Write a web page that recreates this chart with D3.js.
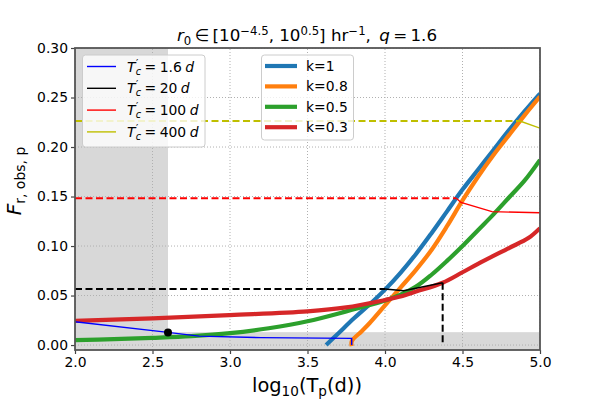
<!DOCTYPE html>
<html>
<head>
<meta charset="utf-8">
<script src="https://cdn.jsdelivr.net/npm/d3@7"></script>
<style>
  body { margin: 0; background: #fff; }
  text { font-family: "DejaVu Sans", sans-serif; }
</style>
</head>
<body>
<div id="chart"></div>
<script>
// ticks
const xTickVals = [2.0, 2.5, 3.0, 3.5, 4.0, 4.5, 5.0];
const yTickVals = [0.00, 0.05, 0.10, 0.15, 0.20, 0.25, 0.30];

// thick curves, one per k
const kLabels = ['k=1', 'k=0.8', 'k=0.5', 'k=0.3'];
const k1X  = [3.62, 3.7, 3.8, 3.9, 4.0, 4.1, 4.2, 4.3, 4.4, 4.5, 4.6, 4.7, 4.8, 4.9, 5.0];
const k1Y  = [0.0, 0.012, 0.027, 0.041, 0.056, 0.073, 0.092, 0.113, 0.135, 0.157, 0.177, 0.197, 0.217, 0.236, 0.254];
const k08X = [3.785, 3.786, 3.85, 3.9, 4.0, 4.1, 4.2, 4.3, 4.4, 4.5, 4.6, 4.7, 4.8, 4.9, 5.0];
const k08Y = [-0.001, 0.004, 0.014, 0.022, 0.040, 0.058, 0.076, 0.096, 0.12, 0.146, 0.17, 0.192, 0.212, 0.232, 0.251];
const k05X = [2.0, 2.25, 2.5, 2.75, 3.0, 3.25, 3.5, 3.75, 4.0, 4.1, 4.2, 4.3, 4.4, 4.5, 4.6, 4.7, 4.8, 4.9, 5.0];
const k05Y = [0.005, 0.006, 0.0073, 0.009, 0.012, 0.017, 0.024, 0.034, 0.045, 0.051, 0.059, 0.071, 0.085, 0.1, 0.116, 0.132, 0.149, 0.166, 0.187];
const k03X = [2.0, 2.5, 3.0, 3.5, 3.75, 4.0, 4.1, 4.2, 4.372, 4.5, 4.6, 4.8, 4.925, 5.0];
const k03Y = [0.0245, 0.027, 0.0303, 0.034, 0.038, 0.0455, 0.049, 0.054, 0.0629, 0.0735, 0.082, 0.098, 0.108, 0.118];

// thin T'_c curves
const tcLabels = ['1.6', '20', '100', '400'];
const tc16X  = [2.0, 2.6, 2.8, 3.2, 3.785, 3.785];
const tc16Y  = [0.0236, 0.0128, 0.009, 0.0075, 0.0067, 0.0];
const tc20X  = [4.0, 4.12, 4.372];
const tc20Y  = [0.0566, 0.0549, 0.0629];
const tc100X = [4.46, 4.49, 4.69, 5.0];
const tc100Y = [0.1482, 0.144, 0.1347, 0.1336];
const tc400X = [4.87, 5.0];
const tc400Y = [0.2263, 0.219];

// dashed guide levels (level, where the dash stops)
const dashLevels = [0.0566, 0.1482, 0.2263];
const dashEnds   = [4.0, 4.46, 4.87];
const dropX = [4.372];
const dropY = [0.0629];

// marker and shaded spans
const dotX = [2.6];
const dotY = [0.0128];
const shadeX = [2.0, 2.6];
const shadeY = [-0.005, 0.013];

const width = 600, height = 400;
const m = { left: 75, right: 60, top: 48, bottom: 50 };

const svg = d3.select('#chart').append('svg')
  .attr('width', width)
  .attr('height', height);

const x = d3.scaleLinear().domain([2.0, 5.0]).range([m.left, width - m.right]);
const y = d3.scaleLinear().domain([-0.005, 0.30]).range([height - m.bottom, m.top]);

svg.append('defs').append('clipPath').attr('id', 'clip')
  .append('rect')
  .attr('x', x(2.0)).attr('y', y(0.30))
  .attr('width', x(5.0) - x(2.0)).attr('height', y(-0.005) - y(0.30));

const plot = svg.append('g').attr('clip-path', 'url(#clip)');

// grey spans
plot.append('rect')
  .attr('x', x(shadeX[0])).attr('y', y(0.30))
  .attr('width', x(shadeX[1]) - x(shadeX[0]))
  .attr('height', y(-0.005) - y(0.30))
  .attr('fill', '#d8d8d8');
plot.append('rect')
  .attr('x', x(2.0)).attr('y', y(shadeY[1]))
  .attr('width', x(5.0) - x(2.0))
  .attr('height', y(shadeY[0]) - y(shadeY[1]))
  .attr('fill', '#d8d8d8');

// grid
plot.append('g').selectAll('line').data(xTickVals).join('line')
  .attr('x1', d => x(d)).attr('x2', d => x(d))
  .attr('y1', y(-0.005)).attr('y2', y(0.30))
  .attr('stroke', '#b0b0b0').attr('stroke-width', 1).attr('stroke-dasharray', '1,2');
plot.append('g').selectAll('line').data(yTickVals).join('line')
  .attr('x1', x(2.0)).attr('x2', x(5.0))
  .attr('y1', d => y(d)).attr('y2', d => y(d))
  .attr('stroke', '#b0b0b0').attr('stroke-width', 1).attr('stroke-dasharray', '1,2');

const line = d3.line().x(d => x(d[0])).y(d => y(d[1]));
const smooth = d3.line().x(d => x(d[0])).y(d => y(d[1])).curve(d3.curveCatmullRom.alpha(0.5));
const zip = (xs, ys) => xs.map((v, i) => [v, ys[i]]);

// thick k curves
const kSeries = [zip(k1X, k1Y), zip(k08X, k08Y), zip(k05X, k05Y), zip(k03X, k03Y)];
const kColors = ['#1f77b4', '#ff7f0e', '#2ca02c', '#d62728'];
plot.append('g').selectAll('path').data(kSeries).join('path')
  .attr('d', smooth)
  .attr('fill', 'none')
  .attr('stroke', (d, i) => kColors[i])
  .attr('stroke-width', 4.2);

// dashed guides
const tcColors = ['#0000ff', '#000000', '#ff0000', '#bfbf00'];
plot.append('g').selectAll('path').data(dashLevels).join('path')
  .attr('d', (d, i) => line([[2.0, d], [dashEnds[i], d]]))
  .attr('fill', 'none')
  .attr('stroke', (d, i) => tcColors[i + 1])
  .attr('stroke-width', 2)
  .attr('stroke-dasharray', '7,3.5');
plot.append('path')
  .attr('d', line([[dropX[0], dropY[0]], [dropX[0], 0]]))
  .attr('fill', 'none')
  .attr('stroke', '#000')
  .attr('stroke-width', 2)
  .attr('stroke-dasharray', '7,3.5');

// thin T'_c curves
const tcSeries = [zip(tc16X, tc16Y), zip(tc20X, tc20Y), zip(tc100X, tc100Y), zip(tc400X, tc400Y)];
plot.append('g').selectAll('path').data(tcSeries).join('path')
  .attr('d', line)
  .attr('fill', 'none')
  .attr('stroke', (d, i) => tcColors[i])
  .attr('stroke-width', 1.4);

plot.append('circle')
  .attr('cx', x(dotX[0])).attr('cy', y(dotY[0]))
  .attr('r', 4).attr('fill', '#000');

// axes
const xAxis = svg.append('g')
  .attr('transform', `translate(0,${y(-0.005)})`)
  .call(d3.axisBottom(x).tickValues(xTickVals).tickFormat(d3.format('.1f')).tickSize(4).tickPadding(3));
const yAxis = svg.append('g')
  .attr('transform', `translate(${x(2.0)},0)`)
  .call(d3.axisLeft(y).tickValues(yTickVals).tickFormat(d3.format('.2f')).tickSize(4).tickPadding(3));
[xAxis, yAxis].forEach(a => {
  a.select('.domain').remove();
  a.selectAll('.tick line').attr('stroke', '#444').attr('stroke-width', 1.2);
  a.selectAll('.tick text').attr('font-size', 13.9).attr('fill', '#000')
    .style('font-family', '"DejaVu Sans", sans-serif');
});

svg.append('rect')
  .attr('x', x(2.0)).attr('y', y(0.30))
  .attr('width', x(5.0) - x(2.0)).attr('height', y(-0.005) - y(0.30))
  .attr('fill', 'none').attr('stroke', '#555').attr('stroke-width', 1.8);

// rich text helper: parts = {t, s: 'sup'|'sub', i: italic, dx}
const rich = (text, parts, size) => {
  let off = 0;
  parts.forEach(p => {
    const target = p.s === 'sup' ? -0.38 * size : p.s === 'sub' ? 0.22 * size : 0;
    const ts = text.append('tspan')
      .attr('dy', target - off)
      .attr('font-size', p.s ? size * 0.7 : size)
      .text(p.t);
    if (p.i) ts.attr('font-style', 'italic');
    if (p.dx) ts.attr('dx', p.dx);
    off = target;
  });
};

// title
const title = svg.append('text')
  .attr('x', 307).attr('y', 41)
  .attr('text-anchor', 'middle');
rich(title, [
  { t: 'r', i: true }, { t: '0', s: 'sub' }, { t: '\u2009\u2208\u2009[10' },
  { t: '\u22124.5', s: 'sup' }, { t: ', 10' }, { t: '0.5', s: 'sup' },
  { t: '] hr' }, { t: '\u22121', s: 'sup' }, { t: ',\u2002' },
  { t: 'q', i: true }, { t: '\u2009=\u20091.6' }
], 16.7);

// axis labels
const xl = svg.append('text')
  .attr('x', 307).attr('y', 392)
  .attr('text-anchor', 'middle');
rich(xl, [{ t: 'log' }, { t: '10', s: 'sub' }, { t: '(T' }, { t: 'p', s: 'sub' }, { t: '(d))' }], 19.4);

const yl = svg.append('text')
  .attr('transform', 'translate(21,181) rotate(-90)')
  .attr('text-anchor', 'middle');
rich(yl, [{ t: 'F', i: true }, { t: 'r, obs, p', s: 'sub' }], 20);

// legend for T'_c
const leg1 = svg.append('g');
leg1.append('rect')
  .attr('x', 82.5).attr('y', 55).attr('width', 122.5).attr('height', 92)
  .attr('rx', 3).attr('fill', '#fff').attr('fill-opacity', 0.8)
  .attr('stroke', '#ccc');
tcLabels.forEach((lab, i) => {
  const yy = 66.5 + i * 21.8;
  leg1.append('line')
    .attr('x1', 87).attr('x2', 116).attr('y1', yy).attr('y2', yy)
    .attr('stroke', tcColors[i]).attr('stroke-width', 1.4);
  const t = leg1.append('text').attr('x', 127).attr('y', yy + 5);
  t.append('tspan').attr('font-size', 13.9).attr('font-style', 'italic').text('T');
  t.append('tspan').attr('font-size', 10).attr('dx', 0.5).attr('dy', -5).text('\u2032');
  t.append('tspan').attr('font-size', 9.7).attr('font-style', 'italic').attr('dx', -2.5).attr('dy', 8).text('c');
  t.append('tspan').attr('font-size', 13.9).attr('dy', -3).text(`\u2005=\u2005${lab}\u2005`);
  t.append('tspan').attr('font-size', 13.9).attr('font-style', 'italic').text('d');
});

// legend for k
const leg2 = svg.append('g');
leg2.append('rect')
  .attr('x', 261.5).attr('y', 55).attr('width', 92).attr('height', 85)
  .attr('rx', 3).attr('fill', '#fff').attr('fill-opacity', 0.8)
  .attr('stroke', '#ccc');
kLabels.forEach((lab, i) => {
  const yy = 66 + i * 20.4;
  leg2.append('line')
    .attr('x1', 265).attr('x2', 297).attr('y1', yy).attr('y2', yy)
    .attr('stroke', kColors[i]).attr('stroke-width', 4.2);
  leg2.append('text')
    .attr('x', 306).attr('y', yy + 5)
    .attr('font-size', 13.9)
    .text(lab);
});
</script>
</body>
</html>
